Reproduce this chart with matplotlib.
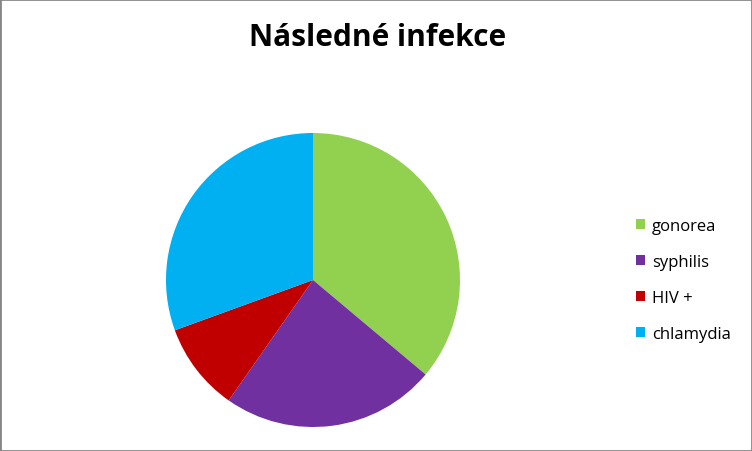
import matplotlib.pyplot as plt
from matplotlib.patches import Rectangle

labels = ['gonorea', 'syphilis', 'HIV +', 'chlamydia']
values = [26, 17, 7, 22]
colors = ['#92D050', '#7030A0', '#C00000', '#00B0F0']

plt.rcParams['font.family'] = ['Open Sans', 'DejaVu Sans']

fig = plt.figure(figsize=(7.52, 4.52), dpi=100)
# pie: center (313, 281), radius 147 px
ax = fig.add_axes([(313 - 147) / 752, 1 - (281 + 147) / 452, 294 / 752, 294 / 452])
wedges, _ = ax.pie(values, colors=colors, startangle=90, counterclock=False,
                   wedgeprops=dict(linewidth=0))
ax.set_xlim(-1, 1)
ax.set_ylim(-1, 1)
ax.set_aspect('equal')

fig.text(378 / 752, 1 - 38 / 452, 'Následné infekce', ha='center', va='center',
         fontsize=21.5, fontweight='bold')

fig.legend(wedges, labels, loc='center left', bbox_to_anchor=(636 / 752, 1 - 281 / 452),
           frameon=False, fontsize=12, labelspacing=1.2, handlelength=0.55,
           handleheight=0.55, handletextpad=0.4, borderpad=0, borderaxespad=0)

# grey border
fig.patches.append(Rectangle((0, 0), 1, 1, transform=fig.transFigure, fill=False,
                             edgecolor='#868686', linewidth=2))

fig.savefig('out.png', dpi=100)
